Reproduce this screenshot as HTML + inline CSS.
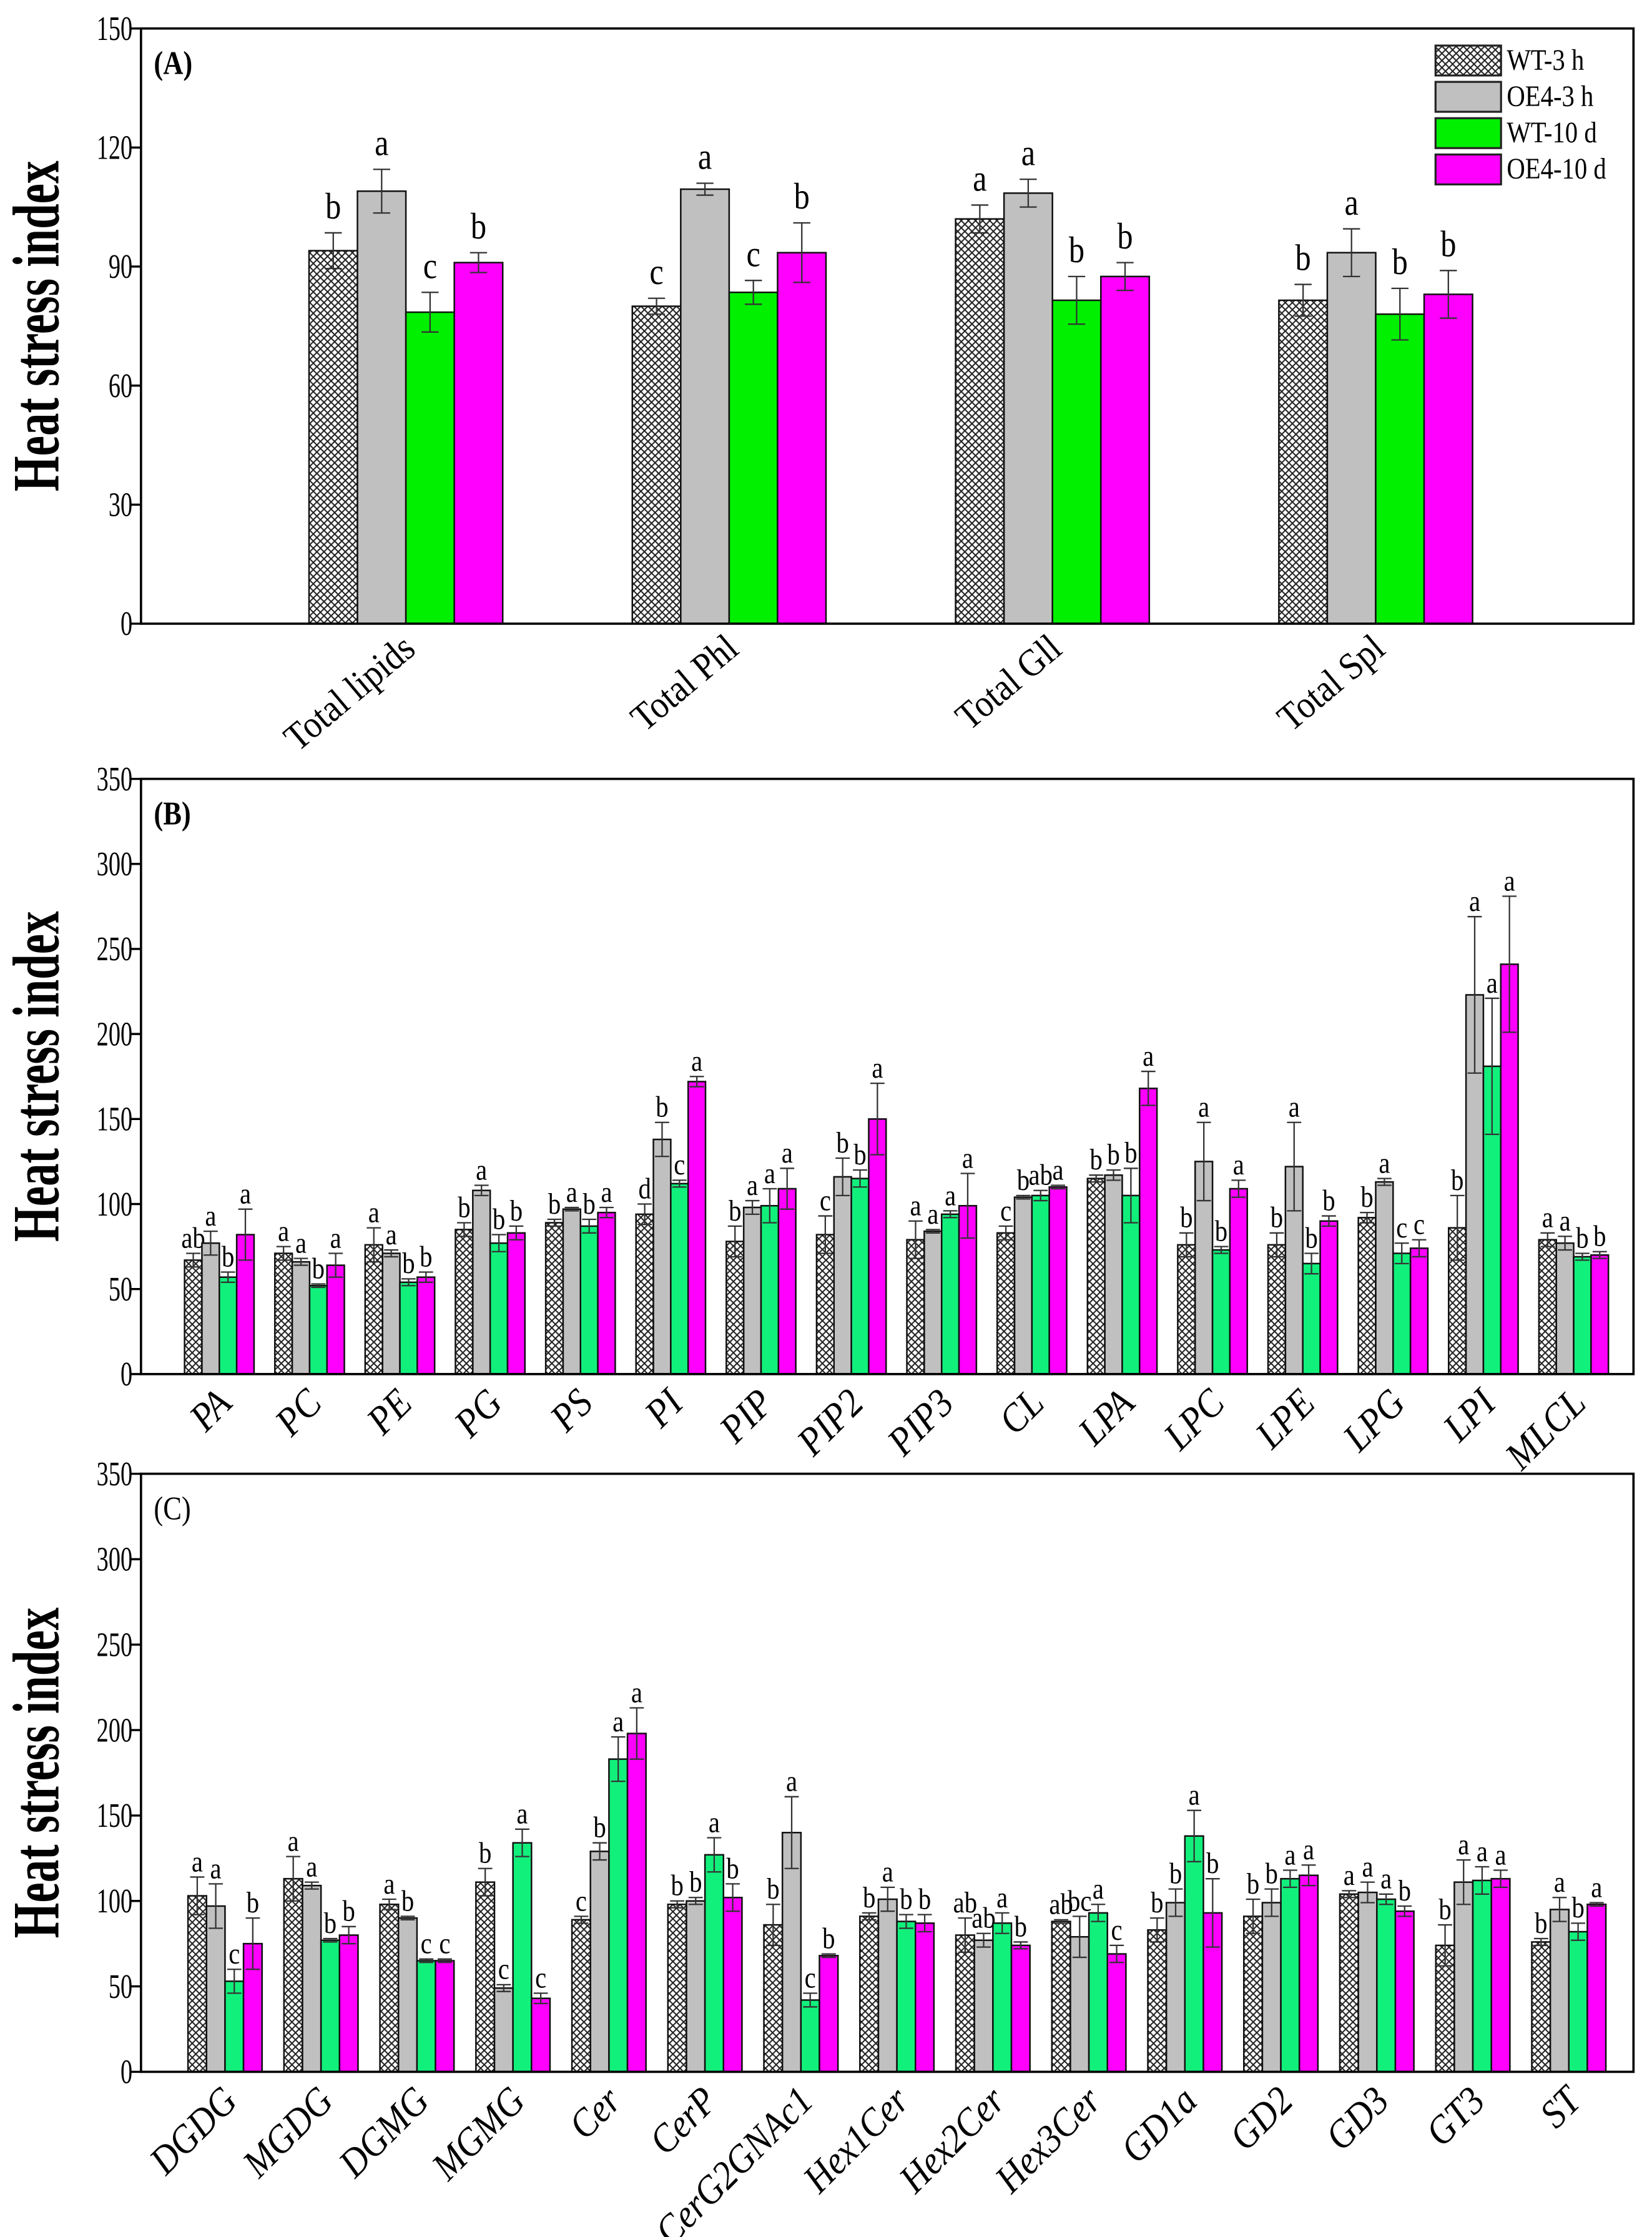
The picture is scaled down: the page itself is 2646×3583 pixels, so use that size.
<!DOCTYPE html>
<html><head><meta charset="utf-8"><style>
html,body{margin:0;padding:0;background:#fff;}
svg{display:block;}
text{font-family:"Liberation Serif","DejaVu Serif",serif;fill:#000;}
</style></head><body>
<svg id="fig" xmlns="http://www.w3.org/2000/svg" width="2646" height="3583" viewBox="0 0 1160 1571" preserveAspectRatio="none">
<defs>
<pattern id="hatch" patternUnits="userSpaceOnUse" width="5" height="5">
<rect width="5" height="5" fill="#fff"/>
<path d="M0,0 L5,5 M5,0 L0,5" stroke="#222" stroke-width="0.9"/>
</pattern>
</defs>
</svg>
<script>
// ---- Panel A data ----
const catsA = ["Total lipids","Total Phl","Total Gll","Total Spl"];
const wt3hA = [94, 80, 102, 81.5];
const oe3hA = [109, 109.5, 108.5, 93.5];
const wt10A = [78.5, 83.5, 81.5, 78];
const oe10A = [91, 93.5, 87.5, 83];
const errWt3hA = [4.5, 2, 3.5, 4];
const errOe3hA = [5.5, 1.5, 3.5, 6];
const errWt10A = [5, 3, 6, 6.5];
const errOe10A = [2.5, 7.5, 3.5, 6];
const letWt3hA = ["b","c","a","b"];
const letOe3hA = ["a","a","a","a"];
const letWt10A = ["c","c","b","b"];
const letOe10A = ["b","b","b","b"];
const ticksA = [0,30,60,90,120,150];

// ---- Panel B data ----
const catsB = ["PA","PC","PE","PG","PS","PI","PIP","PIP2","PIP3","CL","LPA","LPC","LPE","LPG","LPI","MLCL"];
const wt3hB = [67,71,76,85,89,94,78,82,79,83,115,76,76,92,86,79];
const oe3hB = [77,66,71,108,97,138,98,116,84,104,117,125,122,113,223,77];
const wt10B = [57,52,54,77,87,112,99,115,94,105,105,73,65,71,181,69];
const oe10B = [82,64,57,83,95,172,109,150,99,110,168,109,90,74,241,70];
const errWt3hB = [4,4,10,4,2,6,9,11,11,4,2,7,7,3,19,4];
const errOe3hB = [7,2,2,3,1,10,4,11,1,1,3,23,26,2,46,4];
const errWt10B = [3,1,2,5,4,2,10,5,2,3,16,2,6,6,40,2];
const errOe10B = [15,7,3,4,3,3,12,21,19,1,10,5,3,5,40,2];
const letWt3hB = ["ab","a","a","b","b","d","b","c","a","c","b","b","b","b","b","a"];
const letOe3hB = ["a","a","a","a","a","b","a","b","a","b","b","a","a","a","a","a"];
const letWt10B = ["b","b","b","b","b","c","a","b","a","ab","b","b","b","c","a","b"];
const letOe10B = ["a","a","b","b","a","a","a","a","a","a","a","a","b","c","a","b"];
const ticksB = [0,50,100,150,200,250,300,350];

// ---- Panel C data ----
const catsC = ["DGDG","MGDG","DGMG","MGMG","Cer","CerP","CerG2GNAc1","Hex1Cer","Hex2Cer","Hex3Cer","GD1a","GD2","GD3","GT3","ST"];
const wt3hC = [103,113,98,111,89,98,86,91,80,88,83,91,104,74,76];
const oe3hC = [97,109,90,49,129,100,140,101,77,79,99,99,105,111,95];
const wt10C = [53,77,65,134,183,127,42,88,87,93,138,113,101,112,82];
const oe10C = [75,80,65,43,198,102,68,87,74,69,93,115,94,113,98];
const errWt3hC = [11,13,3,8,2,2,12,2,10,1,7,10,2,12,2];
const errOe3hC = [13,2,1,2,5,2,21,7,4,12,8,8,6,13,7];
const errWt10C = [7,1,1,8,13,10,4,4,6,5,15,5,3,8,5];
const errOe10C = [15,5,1,3,15,8,1,5,2,5,20,6,3,5,1];
const letWt3hC = ["a","a","a","b","c","b","b","b","ab","ab","b","b","a","b","b"];
const letOe3hC = ["a","a","b","c","b","b","a","a","ab","bc","b","b","a","a","a"];
const letWt10C = ["c","b","c","a","a","a","c","b","a","a","a","a","a","a","b"];
const letOe10C = ["b","b","c","c","a","b","b","b","b","c","b","a","b","a","a"];
const ticksC = [0,50,100,150,200,250,300,350];

const NS = "http://www.w3.org/2000/svg";
const svg = document.getElementById('fig');
function mk(tag, attrs, parent){
  const e = document.createElementNS(NS, tag);
  for (const k in attrs) e.setAttribute(k, attrs[k]);
  (parent||svg).appendChild(e);
  return e;
}
function txt(s, x, y, fs, opts, parent){
  opts = opts||{};
  const sx = opts.sx||0.85;
  const rot = opts.rot||0;
  const t = mk('text', {transform:`translate(${x},${y}) rotate(${rot}) scale(${sx},1)`, 'font-size':fs, 'text-anchor':opts.anchor||'middle'}, parent);
  if (opts.bold) t.setAttribute('font-weight','bold');
  if (opts.italic) t.setAttribute('font-style','italic');
  t.textContent = s;
  return t;
}

const fillsA = ["url(#hatch)","#c0c0c0","#00f000","#ff00ff"];
const fillsBC = ["url(#hatch)","#c0c0c0","#12f07c","#ff00ff"];

function panel(cfg){
  const g = mk('g', {});
  
  
  const L=99, R=1147, T=cfg.top, B=cfg.bottom;
  const ymax = cfg.ticks[cfg.ticks.length-1];
  const yS = v => B - (v/ymax)*(B-T);
  const xC = i => cfg.c0 + i*cfg.step;
  cfg.ticks.forEach(v=>{
    const tk = mk('line',{x1:L-8,x2:L,y1:yS(v),y2:yS(v),stroke:'#000','stroke-width':1.5},g);
    
    
    const tl = txt(String(v), L-6, yS(v)+8, 24, {anchor:'end', sx:0.7}, g);
    
    
  });
  const yt = txt("Heat stress index", 41, (T+B)/2, 32, {bold:true, rot:-90, sx:1}, g);
  yt.setAttribute('transform', `translate(41,${(T+B)/2}) scale(1.45,1) rotate(-90)`);
  
  
  const pl = txt(cfg.label, 108, T+32, 23, {anchor:'start', bold:cfg.labelBold, sx:0.85}, g);
  
  
  const series = cfg.series;
  series.forEach((s, si)=>{
    s.vals.forEach((v, i)=>{
      const x0 = xC(i) - 2*cfg.bw + si*cfg.bw;
      const r = mk('rect',{x:x0, y:yS(v), width:cfg.bw, height:B-yS(v), fill:cfg.fills[si], stroke:'#111','stroke-width':1.1},g);
      
      
      const cx = x0 + cfg.bw/2, e = s.err[i];
      const ep = mk('path',{d:`M${cx},${yS(v-e)} L${cx},${yS(v+e)} M${cx-cfg.cap},${yS(v+e)} L${cx+cfg.cap},${yS(v+e)} M${cx-cfg.cap},${yS(v-e)} L${cx+cfg.cap},${yS(v-e)}`, stroke:'#333','stroke-width':1, fill:'none'},g);
      
      
      const lt = txt(s.lets[i], cx, yS(v+e)-cfg.lgap, cfg.lfs, {sx:0.85}, g);
      
      
    });
  });
  const fr = mk('rect',{x:L,y:T,width:R-L,height:B-T,fill:'none',stroke:'#000','stroke-width':1.6},g);
  
  
  cfg.cats.forEach((c,i)=>{
    const xl = txt(c, xC(i)+cfg.xlOff, B+cfg.xlDy, cfg.xfs, {anchor:'end', rot:cfg.xrot, italic:cfg.italic, sx:0.9}, g);
    
    
  });
  return g;
}

panel({name:'panel-a-total-lipids', top:20, bottom:438, ticks:ticksA, cats:catsA, c0:285, step:227, bw:34, cap:6,
  label:'(A)', labelBold:true, fills:fillsA, lfs:26, lgap:10, xfs:27, xrot:-40, xlOff:8, xlDy:20, italic:false,
  series:[{key:'wt-3h',vals:wt3hA,err:errWt3hA,lets:letWt3hA},{key:'oe4-3h',vals:oe3hA,err:errOe3hA,lets:letOe3hA},
          {key:'wt-10d',vals:wt10A,err:errWt10A,lets:letWt10A},{key:'oe4-10d',vals:oe10A,err:errOe10A,lets:letOe10A}]});

panel({name:'panel-b-phospholipids', top:547, bottom:965, ticks:ticksB, cats:catsB, c0:154, step:63.4, bw:12.2, cap:5,
  label:'(B)', labelBold:true, fills:fillsBC, lfs:21, lgap:4, xfs:28, xrot:-45, xlOff:10, xlDy:22, italic:true,
  series:[{key:'wt-3h',vals:wt3hB,err:errWt3hB,lets:letWt3hB},{key:'oe4-3h',vals:oe3hB,err:errOe3hB,lets:letOe3hB},
          {key:'wt-10d',vals:wt10B,err:errWt10B,lets:letWt10B},{key:'oe4-10d',vals:oe10B,err:errOe10B,lets:letOe10B}]});

panel({name:'panel-c-glycolipids-sphingolipids', top:1035, bottom:1455, ticks:ticksC, cats:catsC, c0:158, step:67.4, bw:13, cap:5,
  label:'(C)', labelBold:false, fills:fillsBC, lfs:21, lgap:4, xfs:28, xrot:-45, xlOff:10, xlDy:22, italic:true,
  series:[{key:'wt-3h',vals:wt3hC,err:errWt3hC,lets:letWt3hC},{key:'oe4-3h',vals:oe3hC,err:errOe3hC,lets:letOe3hC},
          {key:'wt-10d',vals:wt10C,err:errWt10C,lets:letWt10C},{key:'oe4-10d',vals:oe10C,err:errOe10C,lets:letOe10C}]});

const legNames = ["WT-3 h","OE4-3 h","WT-10 d","OE4-10 d"];
const lg = mk('g',{});


legNames.forEach((n,i)=>{
  const y = 32 + i*25.5;
  const r = mk('rect',{x:1008,y:y,width:46,height:21,fill:fillsA[i],stroke:'#222','stroke-width':1.4},lg);
  
  
  const t = txt(n, 1058, y+17, 21, {anchor:'start', sx:0.85}, lg);
  
  
});
</script>
</body></html>
